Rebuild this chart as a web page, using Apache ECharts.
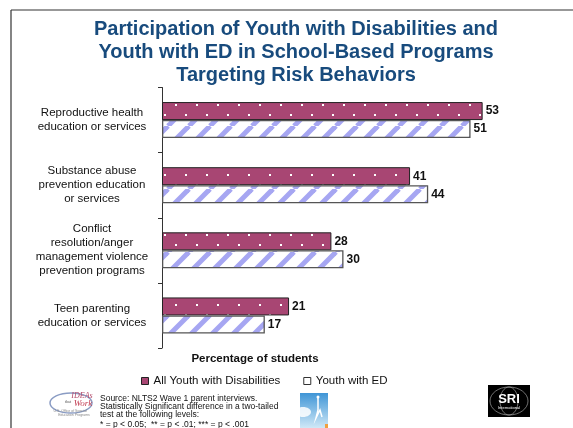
<!DOCTYPE html>
<html>
<head>
<meta charset="utf-8">
<script src="https://cdn.jsdelivr.net/npm/echarts@6/dist/echarts.min.js"></script>
<style>
html,body{margin:0;padding:0;background:#fff;}
#chart{width:573px;height:428px;}
</style>
</head>
<body>
<div id="chart"></div>
<script>
const categories = [
  'Reproductive health\neducation or services',
  'Substance abuse\nprevention education\nor services',
  'Conflict\nresolution/anger\nmanagement violence\nprevention programs',
  'Teen parenting\neducation or services'
];
const allYouth = [53, 41, 28, 21];
const youthED = [51, 44, 30, 17];
const seriesNames = ['All Youth with Disabilities', 'Youth with ED'];
const titleText = 'Participation of Youth with Disabilities and\nYouth with ED in School-Based Programs\nTargeting Risk Behaviors';
const axisTitle = 'Percentage of students';
const sourceLines = [
  'Source: NLTS2 Wave 1 parent interviews.',
  'Statistically Significant difference in a two-tailed',
  'test at the following levels:',
  '* = p < 0.05;  ** = p < .01; *** = p < .001'
];

const FONT = 'Arial, "Liberation Sans", sans-serif';

function dotPattern() {
  const c = document.createElement('canvas');
  c.width = 21; c.height = 20;
  const g = c.getContext('2d');
  g.fillStyle = '#A84673';
  g.fillRect(0, 0, 21, 20);
  g.fillStyle = '#ffffff';
  g.fillRect(7, 4, 2, 2);
  g.fillRect(17, 14, 2, 2);
  return c;
}
function stripePattern() {
  const c = document.createElement('canvas');
  c.width = 21; c.height = 21;
  const g = c.getContext('2d');
  g.fillStyle = '#ffffff';
  g.fillRect(0, 0, 21, 21);
  g.strokeStyle = '#A6A6F2';
  g.lineWidth = 5;
  for (const k of [-21, 0, 21]) {
    g.beginPath();
    g.moveTo(k, 21);
    g.lineTo(k + 21, 0);
    g.stroke();
  }
  return c;
}

const chart = echarts.init(document.getElementById('chart'), null, {renderer: 'canvas'});

const option = {
  animation: false,
  backgroundColor: '#fff',
  grid: {left: 162, top: 87.5, width: 363, height: 260.5},
  xAxis: {type: 'value', min: 0, max: 60, show: false},
  yAxis: {
    type: 'category',
    data: categories,
    inverse: true,
    axisLine: {show: true, lineStyle: {color: '#333', width: 1}},
    axisTick: {show: true, inside: false, length: 4, lineStyle: {color: '#333', width: 1}},
    axisLabel: {
      align: 'center',
      margin: 70,
      fontSize: 11.5,
      lineHeight: 14,
      color: '#111',
      fontFamily: FONT
    }
  },
  legend: {
    left: 141,
    top: 375,
    padding: 0,
    itemWidth: 7,
    itemHeight: 7,
    itemGap: 23,
    icon: 'rect',
    textStyle: {fontSize: 11.5, color: '#111', fontFamily: FONT},
    data: [
      {name: seriesNames[0], itemStyle: {color: '#A84673', borderColor: '#222', borderWidth: 1}},
      {name: seriesNames[1], itemStyle: {color: '#fff', borderColor: '#333', borderWidth: 1}}
    ]
  },
  series: [
    {
      name: seriesNames[0],
      type: 'bar',
      data: allYouth,
      barWidth: 18,
      barGap: '0%',
      itemStyle: {color: {image: dotPattern(), repeat: 'repeat'}, borderColor: '#222', borderWidth: 1},
      label: {show: true, position: 'right', distance: 3, fontWeight: 'bold', fontSize: 12, color: '#111', fontFamily: FONT}
    },
    {
      name: seriesNames[1],
      type: 'bar',
      data: youthED,
      barWidth: 18,
      itemStyle: {color: {image: stripePattern(), repeat: 'repeat'}, borderColor: '#555', borderWidth: 1.3},
      label: {show: true, position: 'right', distance: 3, fontWeight: 'bold', fontSize: 12, color: '#111', fontFamily: FONT}
    }
  ],
  graphic: [
    {type: 'line', shape: {x1: 11, y1: 10, x2: 11, y2: 428}, style: {stroke: '#333', lineWidth: 1.2}},
    {type: 'line', shape: {x1: 11, y1: 10, x2: 573, y2: 10}, style: {stroke: '#333', lineWidth: 1.2}},
    {type: 'text', x: 296, y: 18, style: {text: titleText, font: 'bold 20px ' + FONT, fill: '#184B7D', textAlign: 'center', textVerticalAlign: 'top', lineHeight: 23}},
    {type: 'text', x: 255, y: 359, style: {text: axisTitle, font: 'bold 11.5px ' + FONT, fill: '#111', textAlign: 'center', textVerticalAlign: 'middle'}},
    // source notes
    {type: 'text', x: 100, y: 399, style: {text: sourceLines[0], font: '8.5px ' + FONT, fill: '#111', textVerticalAlign: 'middle'}},
    {type: 'text', x: 100, y: 407, style: {text: sourceLines[1], font: '8.5px ' + FONT, fill: '#111', textVerticalAlign: 'middle'}},
    {type: 'text', x: 100, y: 415, style: {text: sourceLines[2], font: '8.5px ' + FONT, fill: '#111', textVerticalAlign: 'middle'}},
    {type: 'text', x: 100, y: 425, style: {text: sourceLines[3], font: '8.5px ' + FONT, fill: '#111', textVerticalAlign: 'middle'}},
    // IDEAs logo approximation
    {type: 'ellipse', shape: {cx: 71, cy: 403, rx: 21, ry: 10}, style: {fill: 'none', stroke: '#8a9cc4', lineWidth: 1.5}},
    {type: 'text', x: 82, y: 396, style: {text: 'IDEAs', font: 'italic 8px "Liberation Serif", serif', fill: '#b44a6a', textAlign: 'center', textVerticalAlign: 'middle'}},
    {type: 'text', x: 68, y: 402, style: {text: 'that', font: '4px "Liberation Serif", serif', fill: '#555', textAlign: 'center', textVerticalAlign: 'middle'}},
    {type: 'text', x: 83, y: 404, style: {text: 'Work', font: 'italic 9px "Liberation Serif", serif', fill: '#c0394f', textAlign: 'center', textVerticalAlign: 'middle'}},
    {type: 'text', x: 70, y: 411, style: {text: 'U.S. Office of Special', font: '3.5px ' + FONT, fill: '#888', textAlign: 'center', textVerticalAlign: 'middle'}},
    {type: 'text', x: 74, y: 415, style: {text: 'Education Programs', font: '3.5px ' + FONT, fill: '#888', textAlign: 'center', textVerticalAlign: 'middle'}},
    // middle picture approximation
    {type: 'rect', shape: {x: 300, y: 393, width: 28, height: 35}, style: {fill: new echarts.graphic.LinearGradient(0, 0, 0, 1, [{offset: 0, color: '#3f95d6'}, {offset: 1, color: '#cfe8f7'}])}},
    {type: 'ellipse', shape: {cx: 303, cy: 412, rx: 8, ry: 5}, style: {fill: 'rgba(255,255,255,0.85)'}},
    {type: 'polyline', shape: {points: [[318, 398], [318, 410], [316, 418], [320, 410], [322, 417]]}, style: {stroke: '#fff', lineWidth: 1.5, fill: 'none'}},
    {type: 'circle', shape: {cx: 318, cy: 397, r: 1.5}, style: {fill: '#fff'}},
    {type: 'rect', shape: {x: 325, y: 424, width: 3, height: 4}, style: {fill: '#f0a040'}},
    // SRI logo approximation
    {type: 'rect', shape: {x: 488, y: 385, width: 42, height: 32}, style: {fill: '#000'}},
    {type: 'ellipse', shape: {cx: 509, cy: 401, rx: 19, ry: 14}, style: {fill: 'none', stroke: '#bbb', lineWidth: 0.6}},
    {type: 'ellipse', shape: {cx: 509, cy: 401, rx: 9, ry: 14}, style: {fill: 'none', stroke: '#bbb', lineWidth: 0.6}},
    {type: 'text', x: 509, y: 399, style: {text: 'SRI', font: 'bold 13px ' + FONT, fill: '#fff', textAlign: 'center', textVerticalAlign: 'middle'}},
    {type: 'text', x: 509, y: 408, style: {text: 'International', font: '4px ' + FONT, fill: '#fff', textAlign: 'center', textVerticalAlign: 'middle'}}
  ]
};
chart.setOption(option);
</script>
</body>
</html>
